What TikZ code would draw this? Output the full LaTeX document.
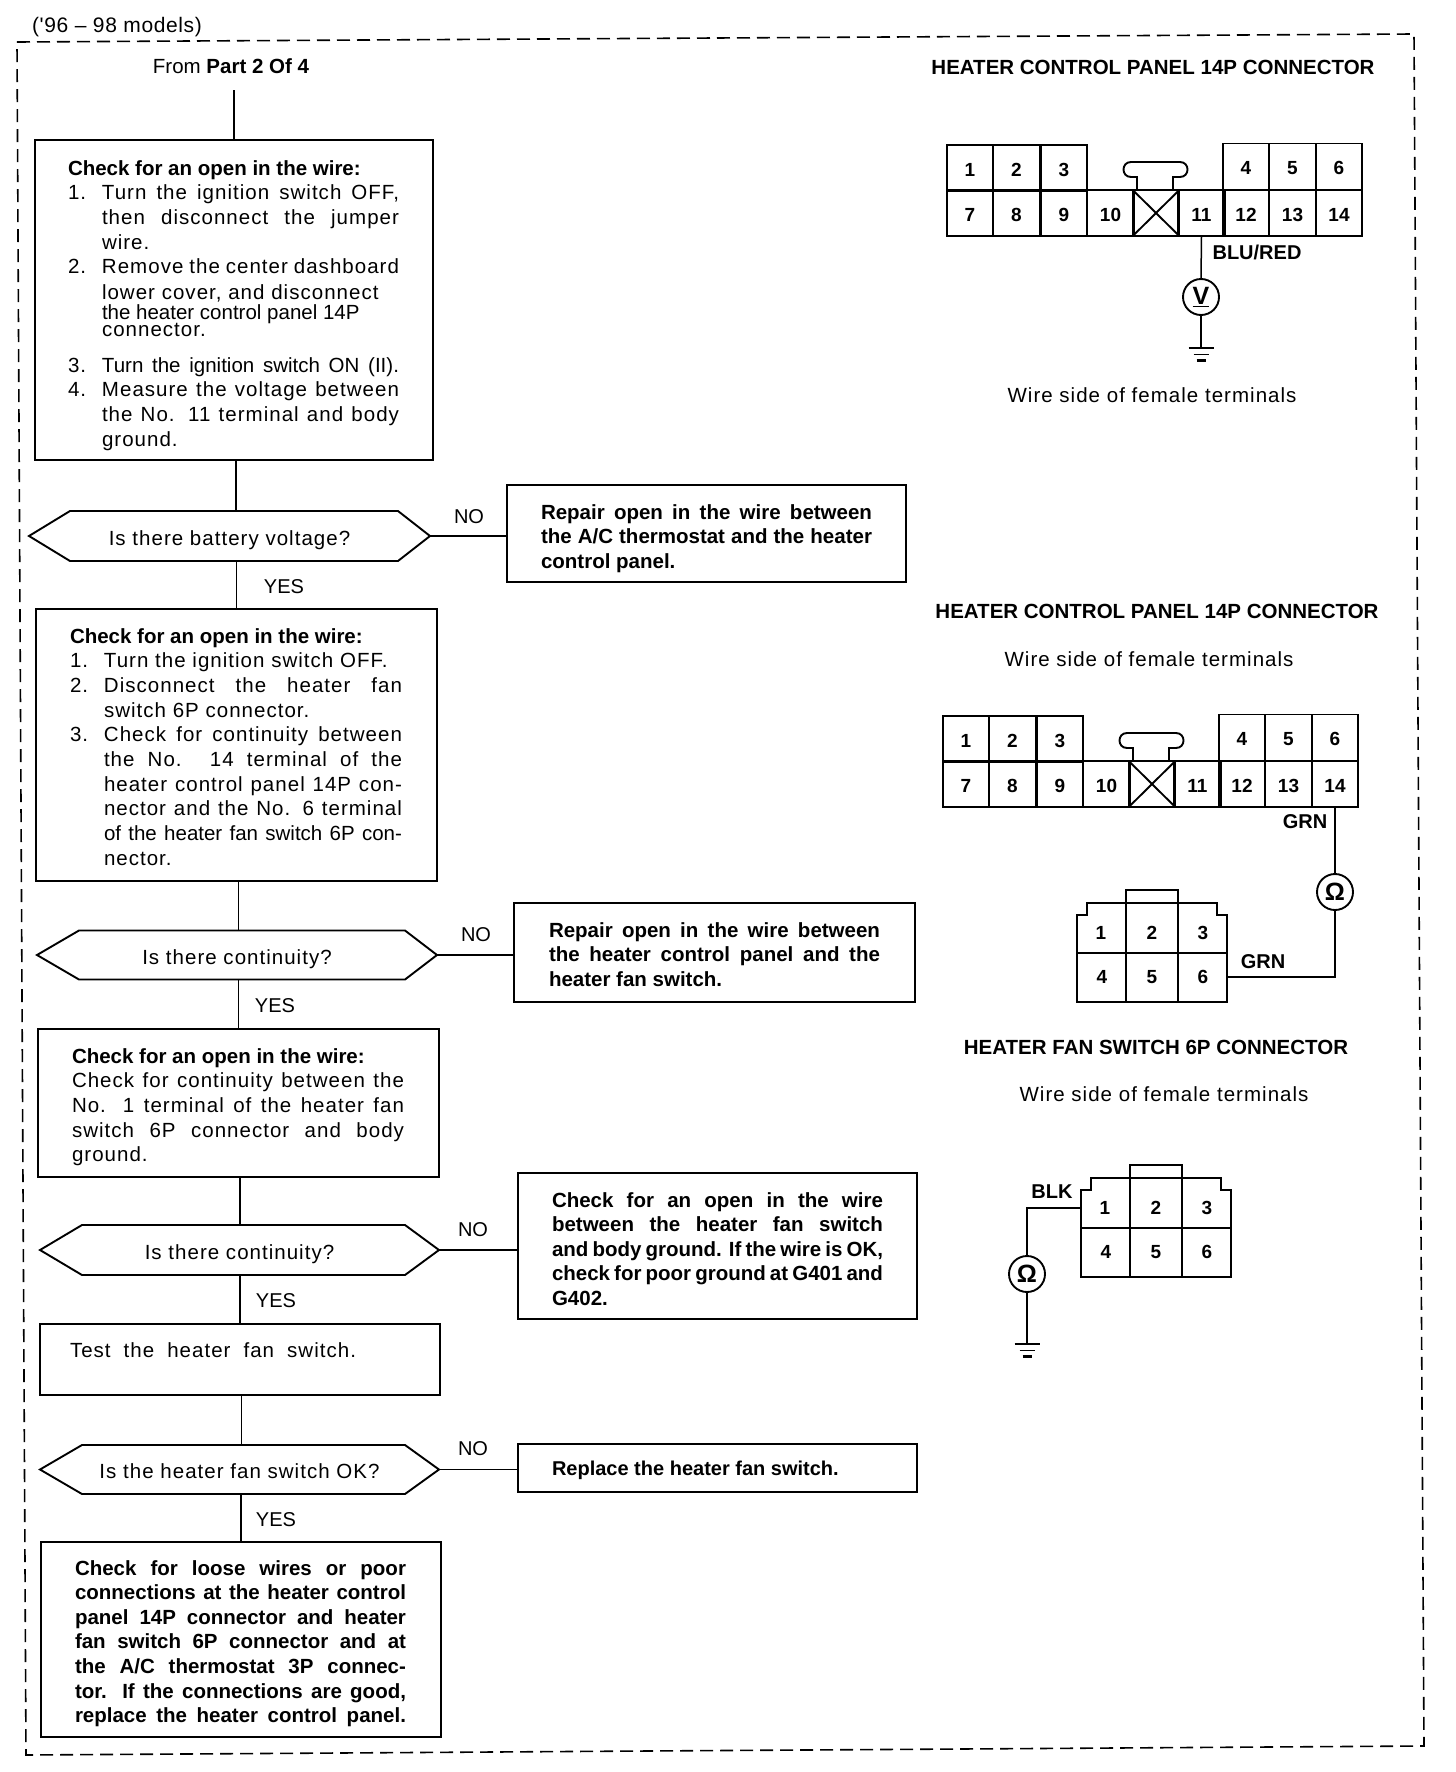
\documentclass[tikz,border=0pt]{standalone}
\usepackage{fontspec}
\setmainfont{Liberation Sans}
\newfontfamily\spacedf[LetterSpace=5]{Liberation Sans}
\newfontfamily\midf[LetterSpace=3]{Liberation Sans}
\newfontfamily\plainf{Liberation Sans}
\usetikzlibrary{calc}
\newcommand\reg{\fontsize{20.5}{24.7}\selectfont\spacedf}
\newcommand\bld{\fontsize{20.5}{24.6}\selectfont\plainf\bfseries}
\newcommand\JL[2]{\makebox[#1pt][s]{#2}}
\newcommand\NL[3]{\makebox[34pt][l]{#1}\makebox[#2pt][s]{#3}}
\newcommand\HD[1]{{\plainf\bfseries #1}}
\newcommand\HX[1]{\raisebox{-9pt}[0pt][0pt]{#1}}
\newcommand\CN[1]{\raisebox{-8.3pt}[0pt][0pt]{#1}}
% width, height, left margin, top to first baseline, lines
\newcommand\ftext[5]{\parbox[c][#2pt][t]{#1pt}{\vspace*{\dimexpr#4pt-16pt\relax}\leftskip=#3pt\rule{0pt}{16pt}#5\par}}
\tikzset{
  x=1pt,y=-1pt,
  flow/.style={line width=1.9pt,line join=miter},
  link/.style={line width=1.5pt},
  fbox/.style={draw,line width=1.9pt,inner sep=0pt,outer sep=0pt,font=\reg},
  bbox/.style={fbox,font=\bld},
  hexa/.style n args={4}{inner sep=0pt,outer sep=0pt,minimum width=#1pt,minimum height=#2pt,font=\reg,
    append after command={\pgfextra{\draw[flow] (\tikzlastnode.west) -- ($(\tikzlastnode.north west)+(#3,0)$) -- ($(\tikzlastnode.north east)+(-#4,0)$) -- (\tikzlastnode.east) -- ($(\tikzlastnode.south east)+(-#4,0)$) -- ($(\tikzlastnode.south west)+(#3,0)$) -- cycle;}}},
  lab/.style={inner sep=0pt,font=\reg},
  blab/.style={inner sep=0pt,font=\bld},
  wlab/.style={inner sep=0pt,font=\fontsize{20}{22}\selectfont\plainf\bfseries},
  ans/.style={inner sep=0pt,font=\fontsize{20}{24}\selectfont},
  meter/.style={draw,circle,line width=1.9pt,inner sep=0pt,minimum size=36pt,font=\fontsize{25}{26}\selectfont\plainf\bfseries},
  cell/.style={draw,line width=1.9pt,inner sep=0pt,outer sep=0pt,minimum width=46.5pt,minimum height=46pt,font=\fontsize{19}{22}\selectfont\plainf\bfseries},
  cellb/.style={inner sep=0pt,outer sep=0pt,minimum width=49pt,minimum height=46pt,font=\fontsize{19}{22}\selectfont\plainf\bfseries},
  conn14/.pic={
    \node[cell] (-1) at (23,23) {\CN{1}};
    \node[cell] (-2) at (69.5,23) {\CN{2}};
    \node[cell] (-3) at (117,23) {\CN{3}};
    \node[cell] (-4) at (299,21.5) {\CN{4}};
    \node[cell] (-5) at (345.5,21.5) {\CN{5}};
    \node[cell] (-6) at (392,21.5) {\CN{6}};
    \node[cell] (-7) at (23,68) {\CN{7}};
    \node[cell] (-8) at (69.5,68) {\CN{8}};
    \node[cell] (-9) at (117,68) {\CN{9}};
    \node[cell] (-10) at (163.5,68) {\CN{10}};
    \node[cell] (-x) at (209,68) {};
    \node[cell] (-11) at (254.5,68) {\CN{11}};
    \node[cell] (-12) at (299,68) {\CN{12}};
    \node[cell] (-13) at (345.5,68) {\CN{13}};
    \node[cell] (-14) at (392,68) {\CN{14}};
    \draw[flow] (-x.north west) -- (-x.south east) (-x.north east) -- (-x.south west);
    \draw[flow] (190,45) -- (190,32) -- (184,32) .. controls (174,32) and (174,17) .. (184,17) -- (233,17) .. controls (243,17) and (243,32) .. (233,32) -- (226,32) -- (226,45);
  },
  conn6/.pic={
    \node[cellb] (-1) at (24,30) {1};
    \node[cellb] (-2) at (75,30) {2};
    \node[cellb] (-3) at (126,30) {3};
    \node[cellb] (-4) at (25,74) {4};
    \node[cellb] (-5) at (75,74) {5};
    \node[cellb] (-6) at (126,74) {6};
    \draw[flow] (0,12) -- (10,12) -- (10,0) -- (140,0) -- (140,12) -- (150,12) -- (150,99) -- (0,99) -- cycle;
    \draw[flow] (49,0) -- (49,-13) -- (101,-13) -- (101,0) -- (101,99) (49,0) -- (49,99) (0,50) -- (150,50);
  },
  ground/.pic={
    \draw[flow] (-12.5,0) -- (12.5,0);
    \draw[flow] (-7.5,6.5) -- (7.5,6.5);
    \draw[line width=2.4pt] (-4.5,12.5) -- (4.5,12.5);
  },
}
\begin{document}
\begin{tikzpicture}
\useasboundingbox (0,0) rectangle (1456,1772);
\draw[line width=1.6pt,dash pattern=on 13pt off 7pt] (17,42) -- (1414,34) -- (1424,1746) -- (26,1755) -- cycle;
\node[lab,font=\fontsize{21}{22}\selectfont\midf] (models) at (117,27) {('96 – 98 models)};
\node[inner sep=0pt,font=\bld\mdseries] (from) at (231,66) {From \textbf{Part 2 Of 4}};
\coordinate (start) at (234,90);

% ---- flow column ----
\node[fbox] (b1) at (234,300) {\ftext{398}{320}{33}{35}{%
\HD{Check for an open in the wire:}\\
\NL{1.}{297}{Turn the ignition switch OFF,}\\
\hspace*{34pt}\JL{297}{then disconnect the jumper}\\
\hspace*{34pt}wire.\\
\NL{2.}{297}{Remove the center dashboard}\\[1pt]
\hspace*{34pt}lower cover, and disconnect\\[-4.5pt]
\hspace*{34pt}{\plainf the heater control panel 14P}\\[-7.5pt]
\hspace*{34pt}connector.\\[10.5pt]
\NL{3.}{297}{\plainf Turn the ignition switch ON (II).}\\
\NL{4.}{297}{Measure the voltage between}\\
\hspace*{34pt}\JL{297}{the No. 11 terminal and body}\\
\hspace*{34pt}ground.}};
\node[hexa={401}{50}{41}{32}] (h1) at (229.5,536) {\HX{Is there battery voltage?}};
\node[bbox] (r1) at (706.5,533.5) {\ftext{399}{97}{34}{34}{%
\JL{331}{Repair open in the wire between}\\
\JL{331}{the A/C thermostat and the heater}\\
control panel.}};
\node[ans] (no1) at (469,517) {NO};
\node[ans] (yes1) at (284,587) {YES};

\node[fbox] (b2) at (236.5,745) {\ftext{401}{272}{34}{34}{%
\HD{Check for an open in the wire:}\\
\makebox[34pt][l]{1.}Turn the ignition switch OFF.\\
\NL{2.}{298}{Disconnect the heater fan}\\
\hspace*{34pt}switch 6P connector.\\
\NL{3.}{298}{Check for continuity between}\\
\hspace*{34pt}\JL{298}{the No. 14 terminal of the}\\
\hspace*{34pt}\JL{298}{heater control panel 14P con-}\\
\hspace*{34pt}\JL{298}{nector and the No. 6 terminal}\\
\hspace*{34pt}\JL{298}{\plainf of the heater fan switch 6P con-}\\
\hspace*{34pt}nector.}};
\node[hexa={400}{49}{42}{32}] (h2) at (237,955) {\HX{Is there continuity?}};
\node[bbox] (r2) at (714.5,952.5) {\ftext{401}{99}{35}{34}{%
\JL{331}{Repair open in the wire between}\\
\JL{331}{the heater control panel and the}\\
heater fan switch.}};
\node[ans] (no2) at (476,935) {NO};
\node[ans] (yes2) at (275,1006) {YES};

\node[fbox] (b3) at (238.5,1103) {\ftext{401}{148}{34}{34}{%
\HD{Check for an open in the wire:}\\
\JL{332}{Check for continuity between the}\\
\JL{332}{No. 1 terminal of the heater fan}\\
\JL{332}{switch 6P connector and body}\\
ground.}};
\node[hexa={399}{50}{42}{34}] (h3) at (239.5,1250) {\HX{Is there continuity?}};
\node[bbox] (r3) at (717.5,1246) {\ftext{399}{146}{34}{34}{%
\JL{331}{Check for an open in the wire}\\
\JL{331}{between the heater fan switch}\\
\JL{331}{and body ground. If the wire is OK,}\\
\JL{331}{check for poor ground at G401 and}\\
G402.}};
\node[ans] (no3) at (473,1230) {NO};
\node[ans] (yes3) at (276,1301) {YES};

\node[fbox] (b4) at (240,1359.5) {\ftext{400}{71}{30}{33}{\JL{286}{Test the heater fan switch.}}};
\node[hexa={399}{49}{42}{34}] (h4) at (239.5,1469.5) {\HX{Is the heater fan switch OK?}};
\node[bbox,font=\fontsize{20}{24}\selectfont\plainf\bfseries] (r4) at (717.5,1468) {\ftext{399}{48}{34}{31}{Replace the heater fan switch.}};
\node[ans] (no4) at (473,1449) {NO};
\node[ans] (yes4) at (276,1520) {YES};

\node[bbox] (b5) at (241,1639.5) {\ftext{400}{195}{34}{33}{%
\JL{331}{Check for loose wires or poor}\\
\JL{331}{connections at the heater control}\\
\JL{331}{panel 14P connector and heater}\\
\JL{331}{fan switch 6P connector and at}\\
\JL{331}{the A/C thermostat 3P connec-}\\
\JL{331}{tor. If the connections are good,}\\
\JL{331}{replace the heater control panel.}}};

\draw[link] (start) -- (b1.north);
\draw[link] ([xshift=2pt]b1.south) -- ([xshift=2pt]b1.south |- h1.north);
\draw[flow] (h1.east) -- (h1.east -| r1.west);
\draw[link] (h1.south -| b2.north) -- (b2.north);
\draw[link] ([xshift=2pt]b2.south) -- ([xshift=2pt]b2.south |- h2.north);
\draw[flow] (h2.east) -- (h2.east -| r2.west);
\draw[link] (h2.south -| b3.north) -- (b3.north);
\draw[link] ([xshift=1.5pt]b3.south) -- ([xshift=1.5pt]b3.south |- h3.north);
\draw[flow] (h3.east) -- (h3.east -| r3.west);
\draw[link] (h3.south -| b4.north) -- (b4.north);
\draw[link] ([xshift=1.5pt]b4.south) -- ([xshift=1.5pt]b4.south |- h4.north);
\draw[flow] (h4.east) -- (h4.east -| r4.west);
\draw[link] (h4.south -| b5.north) -- (b5.north);

% ---- connector views ----
\node[blab] (t1) at (1153,67) {HEATER CONTROL PANEL 14P CONNECTOR};
\pic (A) at (947,145) {conn14};
\node[wlab] (blured) at (1257,252) {BLU/RED};
\node[meter] (mv) at (1201,297) {\underline{V}};
\pic (g1) at (1201,348) {ground};
\coordinate (g1top) at (1201,348);
\draw[link] (A-11.south) -- (mv.north);
\draw[flow] (mv.south) -- (g1top);
\node[lab] (w1) at (1152,395) {Wire side of female terminals};

\node[blab] (t2) at (1157,611) {HEATER CONTROL PANEL 14P CONNECTOR};
\node[lab] (w2) at (1149,659) {Wire side of female terminals};
\pic (B) at (943,716) {conn14};
\node[wlab] (grn1) at (1305,822) {GRN};
\node[meter] (mo) at (1335,892) {Ω};
\pic (C) at (1077,903) {conn6};
\node[wlab] (grn2) at (1263,962) {GRN};
\draw[flow] (B-14.south) -- (mo.north);
\draw[link] (mo.south) |- (C-6.east);

\node[blab] (t3) at (1156,1047) {HEATER FAN SWITCH 6P CONNECTOR};
\node[lab] (w3) at (1164,1094) {Wire side of female terminals};
\pic (D) at (1081,1178) {conn6};
\node[wlab] (blk) at (1052,1192) {BLK};
\node[meter] (mb) at (1027,1274) {Ω};
\coordinate (g2top) at (1027,1344);
\pic (g2) at (1027,1344) {ground};
\draw[flow] (D-1.west) -| (mb.north);
\draw[link] (mb.south) -- (g2top);
\end{tikzpicture}
\end{document}
